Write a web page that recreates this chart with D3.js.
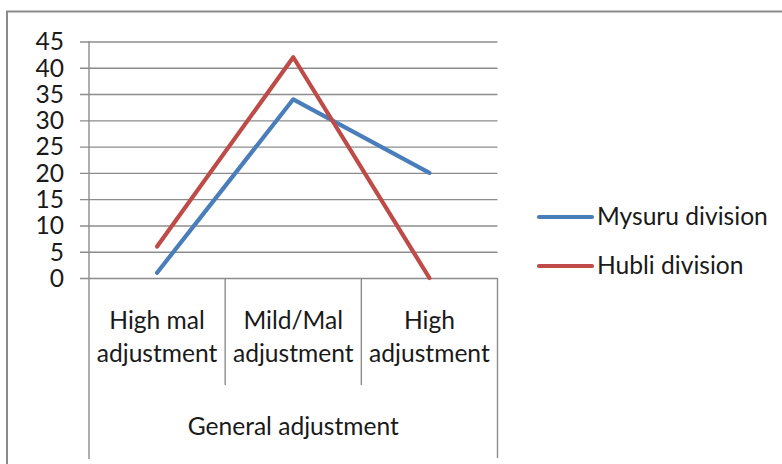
<!DOCTYPE html>
<html>
<head>
<meta charset="utf-8">
<script src="https://cdn.jsdelivr.net/npm/d3@7"></script>
<style>
  html, body { margin: 0; padding: 0; background: #fff; }
  svg { display: block; }
  text { font-family: Lato, "Open Sans", sans-serif; fill: #1a1a1a; }
</style>
</head>
<body>
<svg id="chart" width="782" height="464"></svg>
<script>
// Categories (two-level axis) and series
const categories = [["High mal", "adjustment"], ["Mild/Mal", "adjustment"], ["High", "adjustment"]];
const categoryKeys = ["High mal adjustment", "Mild/Mal adjustment", "High adjustment"];
const groupLabel = "General adjustment";
const mysuru = [1, 34, 20];
const hubli = [6, 42, 0];
const seriesNames = ["Mysuru division", "Hubli division"];
const seriesColors = ["#4a7ebb", "#be4b48"];
const yTicks = [0, 5, 10, 15, 20, 25, 30, 35, 40, 45];

const svg = d3.select("#chart");
const fs = 24.6;

// chart frame
svg.append("rect")
  .attr("x", 7).attr("y", 11.5)
  .attr("width", 800).attr("height", 500)
  .attr("fill", "#fff")
  .attr("stroke", "#8a8a8a").attr("stroke-width", 2);

const plot = { left: 89, right: 497.5, top: 41.5, bottom: 278 };

const x = d3.scaleBand().domain(categoryKeys).range([plot.left, plot.right]).padding(0);
const y = d3.scaleLinear().domain([0, 45]).range([plot.bottom, plot.top]);

// gridlines + y axis
const yAxis = d3.axisLeft(y)
  .tickValues(yTicks)
  .tickSize(-(plot.right - plot.left))
  .tickSizeOuter(0)
  .tickFormat(d3.format("d"));

const yg = svg.append("g").attr("transform", `translate(${plot.left},0)`).call(yAxis);
yg.select(".domain").remove();
yg.selectAll(".tick line").attr("stroke", "#8c8c8c").attr("stroke-width", 1.4).attr("x1", -9);
yg.selectAll(".tick text")
  .attr("x", -25)
  .attr("dy", "0.34em")
  .style("font-size", fs + "px")
  .style("font-family", "Lato, sans-serif")
  .attr("fill", "#1a1a1a");

// vertical axis line
svg.append("line")
  .attr("x1", plot.left).attr("x2", plot.left)
  .attr("y1", plot.top).attr("y2", 459)
  .attr("stroke", "#8c8c8c").attr("stroke-width", 1.4);

// category separators
const bounds = categoryKeys.map(k => x(k)).concat([plot.right]);
bounds.forEach((bx, i) => {
  const outer = i === 0 || i === bounds.length - 1;
  if (i === 0) return;
  svg.append("line")
    .attr("x1", bx).attr("x2", bx)
    .attr("y1", plot.bottom).attr("y2", outer ? 458 : 385)
    .attr("stroke", "#8c8c8c").attr("stroke-width", 1.4);
});

// category labels
categoryKeys.forEach((k, i) => {
  const cx = x(k) + x.bandwidth() / 2;
  const t = svg.append("text")
    .attr("x", cx).attr("y", 329)
    .attr("text-anchor", "middle")
    .style("font-size", fs + "px");
  categories[i].forEach((line, j) => {
    t.append("tspan").attr("x", cx).attr("dy", j === 0 ? 0 : 33).text(line);
  });
});

svg.append("text")
  .attr("x", (plot.left + plot.right) / 2).attr("y", 435)
  .attr("text-anchor", "middle")
  .style("font-size", fs + "px")
  .text(groupLabel);

// series lines
const line = d3.line()
  .x((d, i) => x(categoryKeys[i]) + x.bandwidth() / 2)
  .y(d => y(d));

[mysuru, hubli].forEach((vals, s) => {
  svg.append("path")
    .datum(vals)
    .attr("d", line)
    .attr("fill", "none")
    .attr("stroke", seriesColors[s])
    .attr("stroke-width", 4.2)
    .attr("stroke-linejoin", "round")
    .attr("stroke-linecap", "round");
});

// legend
const legendY = [217, 266];
seriesNames.forEach((name, s) => {
  svg.append("line")
    .attr("x1", 539).attr("x2", 592)
    .attr("y1", legendY[s]).attr("y2", legendY[s])
    .attr("stroke", seriesColors[s]).attr("stroke-width", 4.2)
    .attr("stroke-linecap", "round");
  svg.append("text")
    .attr("x", 597).attr("y", legendY[s] + 8)
    .style("font-size", fs + "px")
    .text(name);
});
</script>
</body>
</html>
